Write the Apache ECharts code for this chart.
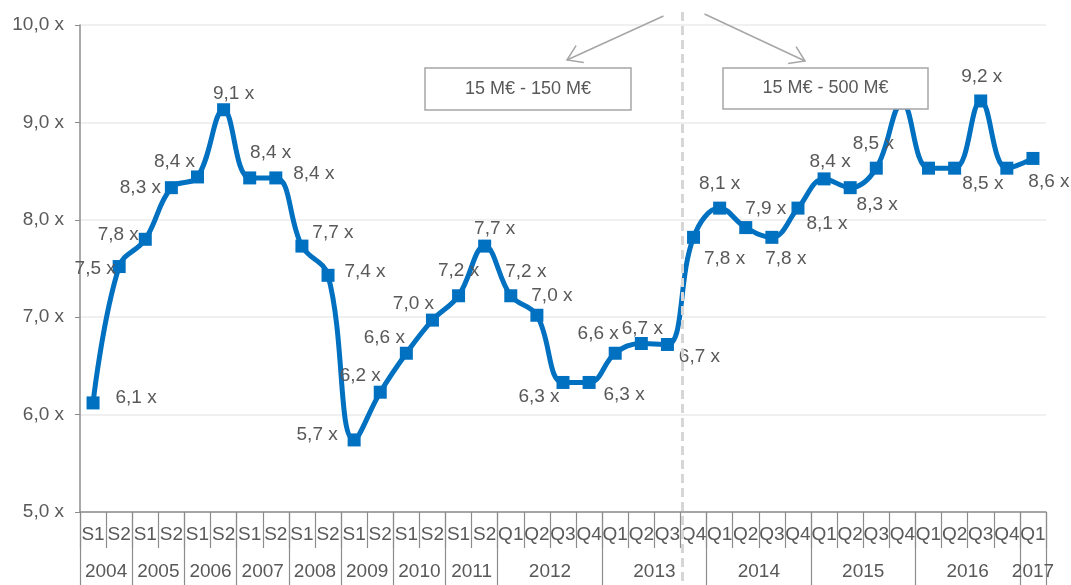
<!DOCTYPE html>
<html><head><meta charset="utf-8">
<script src="https://cdn.jsdelivr.net/npm/echarts@6/dist/echarts.min.js"></script>
<style>html,body{margin:0;padding:0;background:#fff}#c{width:1071px;height:585px}</style>
</head><body><div id="c"></div>
<script>
const periods = ['S1','S2','S1','S2','S1','S2','S1','S2','S1','S2','S1','S2','S1','S2','S1','S2',
  'Q1','Q2','Q3','Q4','Q1','Q2','Q3','Q4','Q1','Q2','Q3','Q4','Q1','Q2','Q3','Q4','Q1','Q2','Q3','Q4','Q1'];
const years = ['2004','2005','2006','2007','2008','2009','2010','2011','2012','2013','2014','2015','2016','2017'];
const yearSpans = [2,2,2,2,2,2,2,2,4,4,4,4,4,1];
const multiples = [6.12,7.52,7.80,8.33,8.44,9.13,8.43,8.43,7.73,7.43,5.74,6.23,6.63,6.97,7.22,7.73,
  7.22,7.02,6.33,6.33,6.63,6.73,6.72,7.82,8.12,7.92,7.82,8.12,8.42,8.33,8.53,9.20,8.53,8.53,9.22,8.53,8.63];
const segmentLabels = ['15 M€ - 150 M€','15 M€ - 500 M€'];
const splitAfterIndex = 22;
// label placement (offset of label centre from point), null = no label
const labelOffsets = [[43,-5],[-24,2],[-27,-5],[-31,0],[-23,-15],[10,-16],[21,-25],[38,-4],[31,-13],[37,-4],
  [-37,-5],[-20,-16],[-22,-15],[-19,-16],[0,-25],[10,-17],[15,-24],[15,-19],[-24,14],[35,12],
  [-17,-19],[1,-15],[32,12],[31,21],[0,-24],[20,-19],[14,21],[29,16],[6,-17],[27,17],
  [-3,-24],[0,-25],null,null,[1,-24],[-24,16],[16,23]];

const TXT = '#595959', AX = '#8c8c8c', BLUE = '#0070C0', FONT = 'Liberation Sans', FS = 19;
const fmt = v => v.toFixed(1).replace('.', ',') + ' x';

// helper half-slot axis for year labels
const half = new Array(periods.length * 2 + 1).fill('');
const yearBounds = new Set();
let s = 0;
years.forEach((y, i) => { half[2 * s + yearSpans[i]] = y; yearBounds.add(2 * s); s += yearSpans[i]; });
yearBounds.add(2 * s);

const data = multiples.map((v, i) => {
  const o = labelOffsets[i];
  return o ? { value: v, label: { show: true, offset: o } } : { value: v, label: { show: false } };
});

const chart = echarts.init(document.getElementById('c'));
const option = {
  animation: false,
  textStyle: { fontFamily: FONT },
  grid: { left: 80, right: 25, top: 25, bottom: 73 },
  xAxis: [{
    type: 'category', data: periods, boundaryGap: true,
    axisLine: { lineStyle: { color: AX, width: 1.5 } },
    axisTick: { show: true, interval: 0, length: 36, lineStyle: { color: AX, width: 1.2 } },
    axisLabel: { interval: 0, margin: 13, color: TXT, fontSize: FS, fontFamily: FONT },
    splitLine: { show: false }
  }, {
    type: 'category', data: half, boundaryGap: false, position: 'bottom', offset: 0,
    axisLine: { show: false },
    axisTick: { show: true, length: 75, interval: (idx) => yearBounds.has(idx), lineStyle: { color: AX, width: 1.2 } },
    axisLabel: { interval: (idx) => half[idx] !== '', margin: 50, color: TXT, fontSize: FS, fontFamily: FONT },
    splitLine: { show: false }
  }],
  yAxis: {
    type: 'value', min: 5, max: 10, interval: 1,
    axisLine: { show: true, lineStyle: { color: AX, width: 1.5 } },
    axisTick: { show: true, length: 5, lineStyle: { color: AX } },
    axisLabel: { formatter: fmt, color: TXT, fontSize: FS, margin: 16, fontFamily: FONT },
    splitLine: { lineStyle: { color: '#ebebeb', width: 1.5 } }
  },
  series: [{
    type: 'line', xAxisIndex: 0, data: data, smooth: 0.4,
    symbol: 'rect', symbolSize: 13, showAllSymbol: true,
    lineStyle: { color: BLUE, width: 5 },
    itemStyle: { color: BLUE },
    label: { position: 'inside', formatter: p => fmt(p.value), color: TXT, fontSize: FS, fontFamily: FONT },
    z: 3
  }]
};
chart.setOption(option);

const xa = chart.convertToPixel({ xAxisIndex: 0 }, splitAfterIndex);
const xb = chart.convertToPixel({ xAxisIndex: 0 }, splitAfterIndex + 1);
const dx = (xa + xb) / 2 + 2;

function arrow(sx, sy, tx, ty) {
  const a = Math.atan2(sy - ty, sx - tx), L = 17, w = 0.58;
  return [
    { type: 'line', z: 100, shape: { x1: sx, y1: sy, x2: tx, y2: ty }, style: { stroke: '#a6a6a6', lineWidth: 1.5 } },
    { type: 'polyline', z: 100, shape: { points: [[tx + L * Math.cos(a - w), ty + L * Math.sin(a - w)], [tx, ty], [tx + L * Math.cos(a + w), ty + L * Math.sin(a + w)]] },
      style: { stroke: '#a6a6a6', lineWidth: 1.5, fill: null } }
  ];
}
function box(x, y, w, h, t) {
  return [
    { type: 'rect', z: 100, shape: { x: x, y: y, width: w, height: h }, style: { fill: '#fff', stroke: '#a6a6a6', lineWidth: 1.5 } },
    { type: 'text', z: 101, x: x + w / 2, y: y + h / 2,
      style: { text: t, fill: TXT, fontSize: 18, fontFamily: FONT, align: 'center', verticalAlign: 'middle', textAlign: 'center', textVerticalAlign: 'middle' } }
  ];
}

chart.setOption({
  graphic: [
    { type: 'line', z: 99, shape: { x1: dx, y1: 12, x2: dx, y2: 585 }, style: { stroke: '#d6d6d6', lineWidth: 3, lineDash: [9, 5] } },
    ...arrow(dx - 19, 16, 567, 60),
    ...arrow(dx + 22, 14, 805, 61),
    ...box(425, 68, 206, 42, segmentLabels[0]),
    ...box(723, 68, 205, 41, segmentLabels[1])
  ]
});
</script></body></html>
